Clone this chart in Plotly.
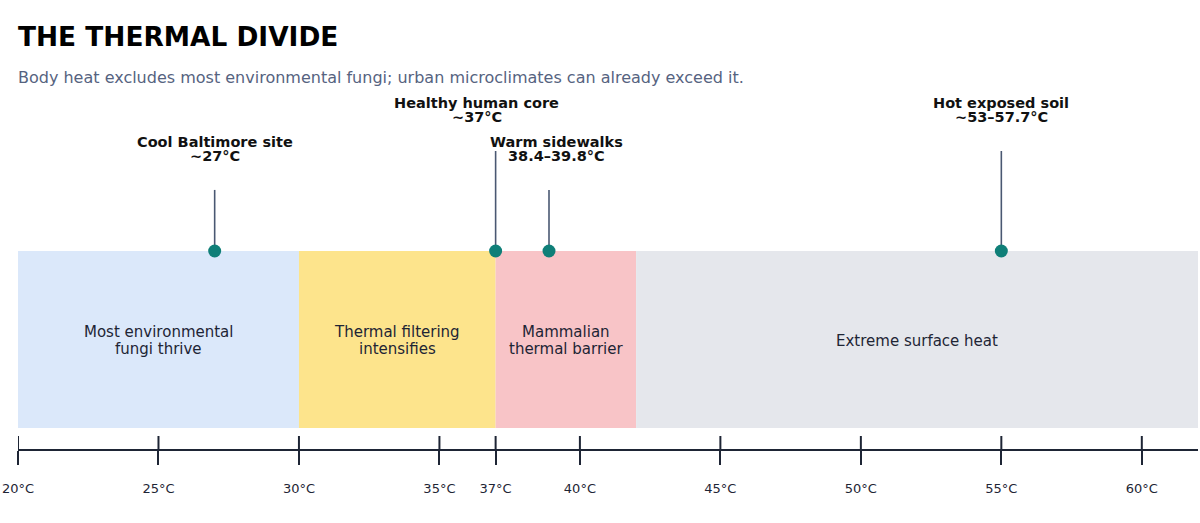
import plotly.graph_objects as go

# temperature zones (deg C)
zone_starts = [20, 30, 37, 42]
zone_ends = [30, 37, 42, 62]
zone_labels = [["Most environmental", "fungi thrive"], ["Thermal filtering", "intensifies"],
               ["Mammalian", "thermal barrier"], ["Extreme surface heat"]]
zone_colors = ["#dbe8fa", "#fde48c", "#f8c4c7", "#e5e7ec"]

# reference points
point_temps = [27, 37, 38.9, 55]
point_titles = ["Cool Baltimore site", "Healthy human core", "Warm sidewalks", "Hot exposed soil"]
point_ranges = ["~27°C", "~37°C", "38.4–39.8°C", "~53–57.7°C"]
point_stems = [1.345, 1.565, 1.345, 1.565]
label_shift = [0, -19, 7, 0]

tick_vals = [20, 25, 30, 35, 37, 40, 45, 50, 55, 60]
tick_text = [f"{t}°C" for t in tick_vals]

FONT = "DejaVu Sans"
W, H = 1200, 523
fig = go.Figure()

for x0, x1, lines, col in zip(zone_starts, zone_ends, zone_labels, zone_colors):
    fig.add_shape(type="rect", x0=x0, x1=x1, y0=0, y1=1, fillcolor=col, line_width=0, layer="below")
    n = len(lines)
    for i, line in enumerate(lines):
        fig.add_annotation(x=(x0 + x1) / 2, y=0.5, yshift=(n - 1) * 8.5 - i * 17 - 1, text=line,
                           showarrow=False, font=dict(family=FONT, size=15, color="#1e2535"))

for t, h in zip(point_temps, point_stems):
    fig.add_trace(go.Scatter(x=[t, t], y=[1, h], mode="lines",
                             line=dict(color="#4a5872", width=1.6), hoverinfo="skip"))

fig.add_trace(go.Scatter(x=point_temps, y=[1] * len(point_temps), mode="markers",
                         marker=dict(color="#0f7f78", size=13), hoverinfo="skip"))

for t, h, name, rng, sh in zip(point_temps, point_stems, point_titles, point_ranges, label_shift):
    fig.add_annotation(x=t, y=h, yshift=48, xshift=sh, text=f"<b>{name}</b>", showarrow=False,
                       font=dict(family=FONT, size=14.5, color="#111111"))
    fig.add_annotation(x=t, y=h, yshift=34, xshift=sh, text=f"<b>{rng}</b>", showarrow=False,
                       font=dict(family=FONT, size=14.5, color="#111111"))

# upper half of the axis ticks
for tv in tick_vals:
    fig.add_shape(type="line", x0=tv, x1=tv, y0=-0.1186, y1=-0.045,
                  line=dict(color="#1e2535", width=2))

fig.update_layout(
    width=W, height=H,
    margin=dict(l=18, r=2, t=0, b=74, autoexpand=False),
    paper_bgcolor="white", plot_bgcolor="white",
    showlegend=False,
    title=dict(text="<b>THE THERMAL DIVIDE</b>", x=18 / W, xanchor="left", y=1 - 37 / H,
               yanchor="middle", font=dict(family=FONT, size=26.4, color="#000000")),
    xaxis=dict(range=[20, 62], tickvals=tick_vals, ticktext=tick_text,
               showgrid=False, zeroline=False, showline=True, linecolor="#1e2535", linewidth=2,
               ticks="outside", ticklen=14, tickwidth=2, tickcolor="#1e2535",
               tickfont=dict(family=FONT, size=13, color="#1e2535"), ticklabelstandoff=12,
               ticklabeloverflow="allow", automargin=False, fixedrange=True),
    yaxis=dict(range=[-0.1186, 2.418], visible=False, fixedrange=True),
)

fig.add_annotation(xref="paper", yref="paper", x=0, xanchor="left", xshift=-2, y=1 - 77 / 449, yanchor="middle",
                   text="Body heat excludes most environmental fungi; urban microclimates can already exceed it.",
                   showarrow=False, font=dict(family=FONT, size=16, color="#56637f"))

fig.write_html("out.html", config={"displayModeBar": False},
               post_script="document.body.style.margin='0';")
